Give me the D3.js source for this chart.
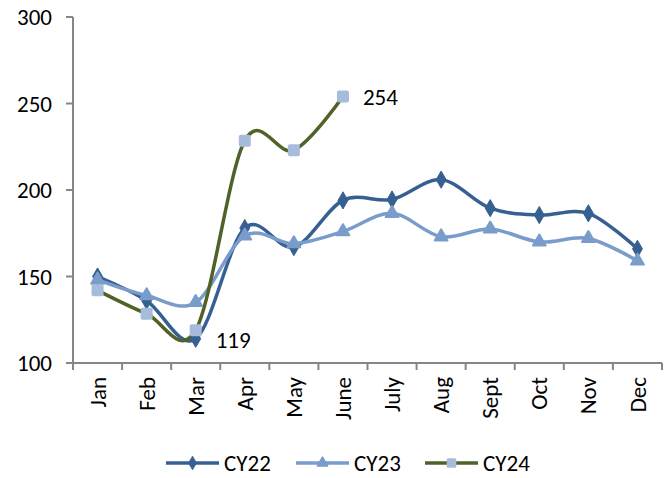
<!DOCTYPE html>
<html>
<head>
<meta charset="utf-8">
<script src="https://cdn.jsdelivr.net/npm/d3@7"></script>
<style>
  body { margin: 0; background: #fff; }
  text { font-family: Carlito, Calibri, Lato, sans-serif; fill: #000; }
</style>
</head>
<body>
<div id="chart"></div>
<script>
// chart data
const months = ["Jan", "Feb", "Mar", "Apr", "May", "June", "July", "Aug", "Sept", "Oct", "Nov", "Dec"];
const cy22 = [150, 136, 114, 178, 167, 194, 194.5, 206, 189.5, 185.5, 186.5, 166];
const cy23 = [148, 139, 135, 173.5, 169, 176, 186.5, 173, 177.5, 170, 172, 159];
const cy24 = [142, 128.5, 119, 228.5, 223, 254];
const yTicks = [100, 150, 200, 250, 300];
const seriesNames = ["CY22", "CY23", "CY24"];

const W = 671, H = 478;
const margin = { top: 17, right: 9, bottom: 115, left: 73 };
const width = W - margin.left - margin.right,
  height = H - margin.top - margin.bottom;
const fontSize = "23px";

const svg = d3.select("#chart")
  .append("svg")
  .attr("width", W)
  .attr("height", H);

const g = svg.append("g")
  .attr("transform", "translate(" + margin.left + "," + margin.top + ")");

const x = d3.scaleBand()
  .domain(months)
  .range([0, width]);
const cx = d => x(d) + x.bandwidth() / 2;

const y = d3.scaleLinear()
  .domain([100, 300])
  .range([height, 0]);

const axisColor = "#868686";

// Y axis
g.append("line")
  .attr("x1", 0).attr("x2", 0)
  .attr("y1", 0).attr("y2", height + 7)
  .attr("stroke", axisColor).attr("stroke-width", 2);
g.selectAll(".ytick")
  .data(yTicks)
  .enter()
  .append("line")
  .attr("x1", -7).attr("x2", 0)
  .attr("y1", d => y(d)).attr("y2", d => y(d))
  .attr("stroke", axisColor).attr("stroke-width", 2);
g.selectAll(".ylab")
  .data(yTicks)
  .enter()
  .append("text")
  .attr("x", -21)
  .attr("y", d => y(d))
  .attr("dy", "0.35em")
  .attr("text-anchor", "end")
  .style("font-size", fontSize)
  .text(d => d);

// X axis
g.append("line")
  .attr("x1", -7).attr("x2", width)
  .attr("y1", height).attr("y2", height)
  .attr("stroke", axisColor).attr("stroke-width", 2);
g.selectAll(".xtick")
  .data(months)
  .enter()
  .append("line")
  .attr("x1", d => x(d) + x.bandwidth()).attr("x2", d => x(d) + x.bandwidth())
  .attr("y1", height).attr("y2", height + 7)
  .attr("stroke", axisColor).attr("stroke-width", 2);
g.selectAll(".xlab")
  .data(months)
  .enter()
  .append("text")
  .attr("transform", d => "translate(" + cx(d) + "," + (height + 14) + ") rotate(-90)")
  .attr("dy", "0.35em")
  .attr("text-anchor", "end")
  .style("font-size", fontSize)
  .text(d => d);

const line = d3.line()
  .x((d, i) => cx(months[i]))
  .y(d => y(d))
  .curve(d3.curveCardinal.tension(0));

const series = [
  { name: "CY22", values: cy22, stroke: "#376092", fill: "#376092", shape: "diamond" },
  { name: "CY23", values: cy23, stroke: "#7A9CCB", fill: "#7A9CCB", shape: "triangle" },
  { name: "CY24", values: cy24, stroke: "#4F6228", fill: "#A7BBDA", shape: "square" }
];

function drawMarker(sel, shape, fill) {
  if (shape === "square") {
    sel.append("rect")
      .attr("x", -6).attr("y", -6)
      .attr("width", 12).attr("height", 12)
      .attr("rx", 2)
      .attr("fill", fill);
  } else if (shape === "diamond") {
    sel.append("path")
      .attr("d", d3.symbol(d3.symbolDiamond, 85)())
      .attr("fill", fill)
      .attr("stroke", fill).attr("stroke-width", 1).attr("stroke-linejoin", "round");
  } else {
    sel.append("path")
      .attr("d", d3.symbol(d3.symbolTriangle, 70)())
      .attr("fill", fill)
      .attr("stroke", fill).attr("stroke-width", 2).attr("stroke-linejoin", "round");
  }
}

series.forEach(s => {
  g.append("path")
    .datum(s.values)
    .attr("d", line)
    .attr("fill", "none")
    .attr("stroke", s.stroke)
    .attr("stroke-width", 3.5)
    .attr("stroke-linejoin", "round");
});

series.forEach(s => {
  s.values.forEach((v, i) => {
    const m = g.append("g")
      .attr("transform", "translate(" + cx(months[i]) + "," + y(v) + ")");
    drawMarker(m, s.shape, s.fill);
  });
});

// data labels on CY24
const cy24Labels = [{ i: 2, text: "119" }, { i: 5, text: "254" }];
g.selectAll(".dlab")
  .data(cy24Labels)
  .enter()
  .append("text")
  .attr("x", d => cx(months[d.i]) + 20)
  .attr("y", d => y(cy24[d.i]) + (d.i === 2 ? 10 : 0))
  .attr("dy", "0.35em")
  .style("font-size", fontSize)
  .text(d => d.text);

// legend
const legendX = [166, 296, 425];
const legend = svg.append("g");
series.forEach((s, k) => {
  const lg = legend.append("g")
    .attr("transform", "translate(" + legendX[k] + ",463)");
  lg.append("line")
    .attr("x1", 0).attr("x2", 53)
    .attr("y1", 0).attr("y2", 0)
    .attr("stroke", s.stroke)
    .attr("stroke-width", 3.5);
  const mk = lg.append("g").attr("transform", "translate(26.5,0) scale(0.8)");
  drawMarker(mk, s.shape, s.fill);
  lg.append("text")
    .attr("x", 58)
    .attr("y", 0)
    .attr("dy", "0.35em")
    .style("font-size", fontSize)
    .text(s.name);
});
</script>
</body>
</html>
